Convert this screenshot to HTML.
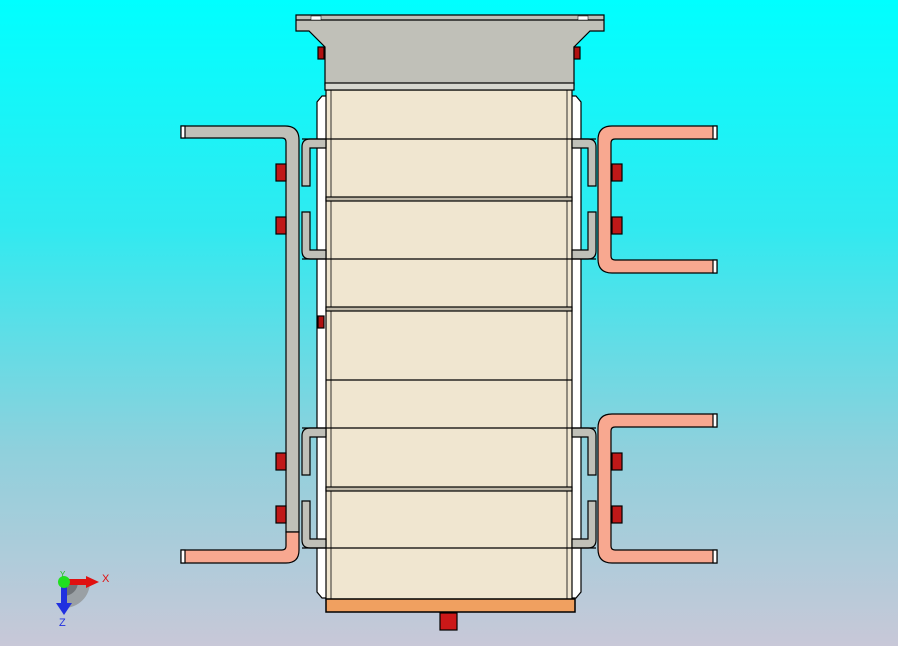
<!DOCTYPE html>
<html><head><meta charset="utf-8"><style>
html,body{margin:0;padding:0;width:898px;height:646px;overflow:hidden}
</style></head><body>
<svg width="898" height="646" viewBox="0 0 898 646" xmlns="http://www.w3.org/2000/svg" font-family="Liberation Sans, sans-serif">
<defs>
<linearGradient id="bg" x1="0" y1="0" x2="0" y2="1">
<stop offset="0" stop-color="#00ffff"/><stop offset="0.35" stop-color="#30eaf0"/><stop offset="0.7" stop-color="#90d0dc"/><stop offset="1" stop-color="#c8c8d8"/>
</linearGradient>
</defs>
<rect width="898" height="646" fill="url(#bg)"/>
<g stroke="#000" stroke-width="1.2">
<!-- side white shells -->
<path d="M322,96 L317,102 L317,592 L322,598 L330,598 L330,96 Z" fill="#fff"/>
<path d="M576,96 L581,102 L581,592 L576,598 L568,598 L568,96 Z" fill="#fff"/>
<!-- column body -->
<rect x="326" y="90" width="246" height="510" fill="#f0e6d0"/>
<line x1="331" y1="90" x2="331" y2="600" stroke-width="0.8"/>
<line x1="567" y1="90" x2="567" y2="600" stroke-width="0.8"/>
<!-- segment seams -->
<rect x="326" y="197" width="246" height="4" fill="#bfb8a8"/>
<rect x="326" y="307" width="246" height="4" fill="#bfb8a8"/>
<line x1="326" y1="380" x2="572" y2="380"/>
<rect x="326" y="487" width="246" height="4" fill="#bfb8a8"/>
<!-- top head -->
<path d="M296,15 L604,15 L604,31 L590,31 L574,47 L574,85 L325,85 L325,47 L309,31 L296,31 Z" fill="#c0c0b8"/>
<line x1="296" y1="20" x2="604" y2="20"/>
<rect x="325" y="83" width="249" height="7" fill="#d8d8d0"/>
<rect x="311" y="16" width="10" height="4" fill="#fff" stroke-width="0.5"/>
<rect x="578" y="16" width="10" height="4" fill="#fff" stroke-width="0.5"/>
<rect x="318" y="47" width="6" height="12" fill="#b01010"/>
<rect x="574" y="47" width="6" height="12" fill="#b01010"/>
<rect x="318" y="316" width="6" height="12" fill="#b01010"/>
<!-- bottom plate -->
<rect x="326" y="599" width="249" height="13" fill="#f0a060" stroke-width="1.5"/>
<rect x="440" y="613" width="17" height="17" fill="#cc1818"/>
<!-- left gray bar -->
<path d="M181,126 L285,126 Q299,126 299,140 L299,532 L286,532 L286,142 Q286,138 282,138 L181,138 Z" fill="#c0c0b8"/>
<rect x="181" y="126" width="4" height="12" fill="#fff"/>
<!-- left copper bottom -->
<path d="M286,532 L299,532 L299,550 Q299,563 286,563 L181,563 L181,550 L282,550 Q286,550 286,546 Z" fill="#f8a890"/>
<rect x="181" y="550" width="4" height="13" fill="#fff"/>
<!-- right copper brackets -->
<path d="M717,126 L612,126 Q598,126 598,140 L598,259 Q598,273 612,273 L717,273 L717,260 L615,260 Q611,260 611,256 L611,143 Q611,139 615,139 L717,139 Z" fill="#f8a890"/>
<rect x="713" y="126" width="4" height="13" fill="#fff"/><rect x="713" y="260" width="4" height="13" fill="#fff"/>
<path d="M717,414 L612,414 Q598,414 598,428 L598,549 Q598,563 612,563 L717,563 L717,550 L615,550 Q611,550 611,546 L611,431 Q611,427 615,427 L717,427 Z" fill="#f8a890"/>
<rect x="713" y="414" width="4" height="13" fill="#fff"/><rect x="713" y="550" width="4" height="13" fill="#fff"/>
<!-- clamps left -->
<path d="M326,139 L310,139 Q302,139 302,147 L302,186 L310,186 L310,148 L326,148 Z" fill="#c0c0b8"/>
<path d="M326,259 L310,259 Q302,259 302,251 L302,212 L310,212 L310,250 L326,250 Z" fill="#c0c0b8"/>
<path d="M326,428 L310,428 Q302,428 302,436 L302,475 L310,475 L310,437 L326,437 Z" fill="#c0c0b8"/>
<path d="M326,548 L310,548 Q302,548 302,540 L302,501 L310,501 L310,539 L326,539 Z" fill="#c0c0b8"/>
<!-- clamps right -->
<path d="M572,139 L588,139 Q596,139 596,147 L596,186 L588,186 L588,148 L572,148 Z" fill="#c0c0b8"/>
<path d="M572,259 L588,259 Q596,259 596,251 L596,212 L588,212 L588,250 L572,250 Z" fill="#c0c0b8"/>
<path d="M572,428 L588,428 Q596,428 596,436 L596,475 L588,475 L588,437 L572,437 Z" fill="#c0c0b8"/>
<path d="M572,548 L588,548 Q596,548 596,540 L596,501 L588,501 L588,539 L572,539 Z" fill="#c0c0b8"/>
<!-- clamp lines across -->
<line x1="302" y1="139" x2="596" y2="139"/>
<line x1="302" y1="259" x2="596" y2="259"/>
<line x1="302" y1="428" x2="596" y2="428"/>
<line x1="302" y1="548" x2="596" y2="548"/>
<!-- bolts -->
<g fill="#c01818">
<rect x="276" y="164" width="10" height="17"/><rect x="276" y="217" width="10" height="17"/>
<rect x="276" y="453" width="10" height="17"/><rect x="276" y="506" width="10" height="17"/>
<rect x="612" y="164" width="10" height="17"/><rect x="612" y="217" width="10" height="17"/>
<rect x="612" y="453" width="10" height="17"/><rect x="612" y="506" width="10" height="17"/>
</g>
</g>
<!-- axis triad -->
<path d="M64,582 L90,582 A26,26 0 0 1 64,608 Z" fill="#9aa0a4"/>
<path d="M64,582 L78,582 A14,14 0 0 1 64,596 Z" fill="#707478"/>
<rect x="64" y="579" width="22" height="6" fill="#e01010"/>
<polygon points="86,576 99,582 86,588" fill="#e01010"/>
<rect x="61" y="582" width="6" height="22" fill="#2030e0"/>
<polygon points="56,603 72,603 64,615" fill="#2030e0"/>
<circle cx="64" cy="582" r="6" fill="#20e020"/>
<text x="102" y="582" font-size="11" fill="#e01010">X</text>
<text x="59" y="626" font-size="11" fill="#2030e0">Z</text>
<text x="60" y="577" font-size="8" fill="#20c020">Y</text>
</svg>
</body></html>
